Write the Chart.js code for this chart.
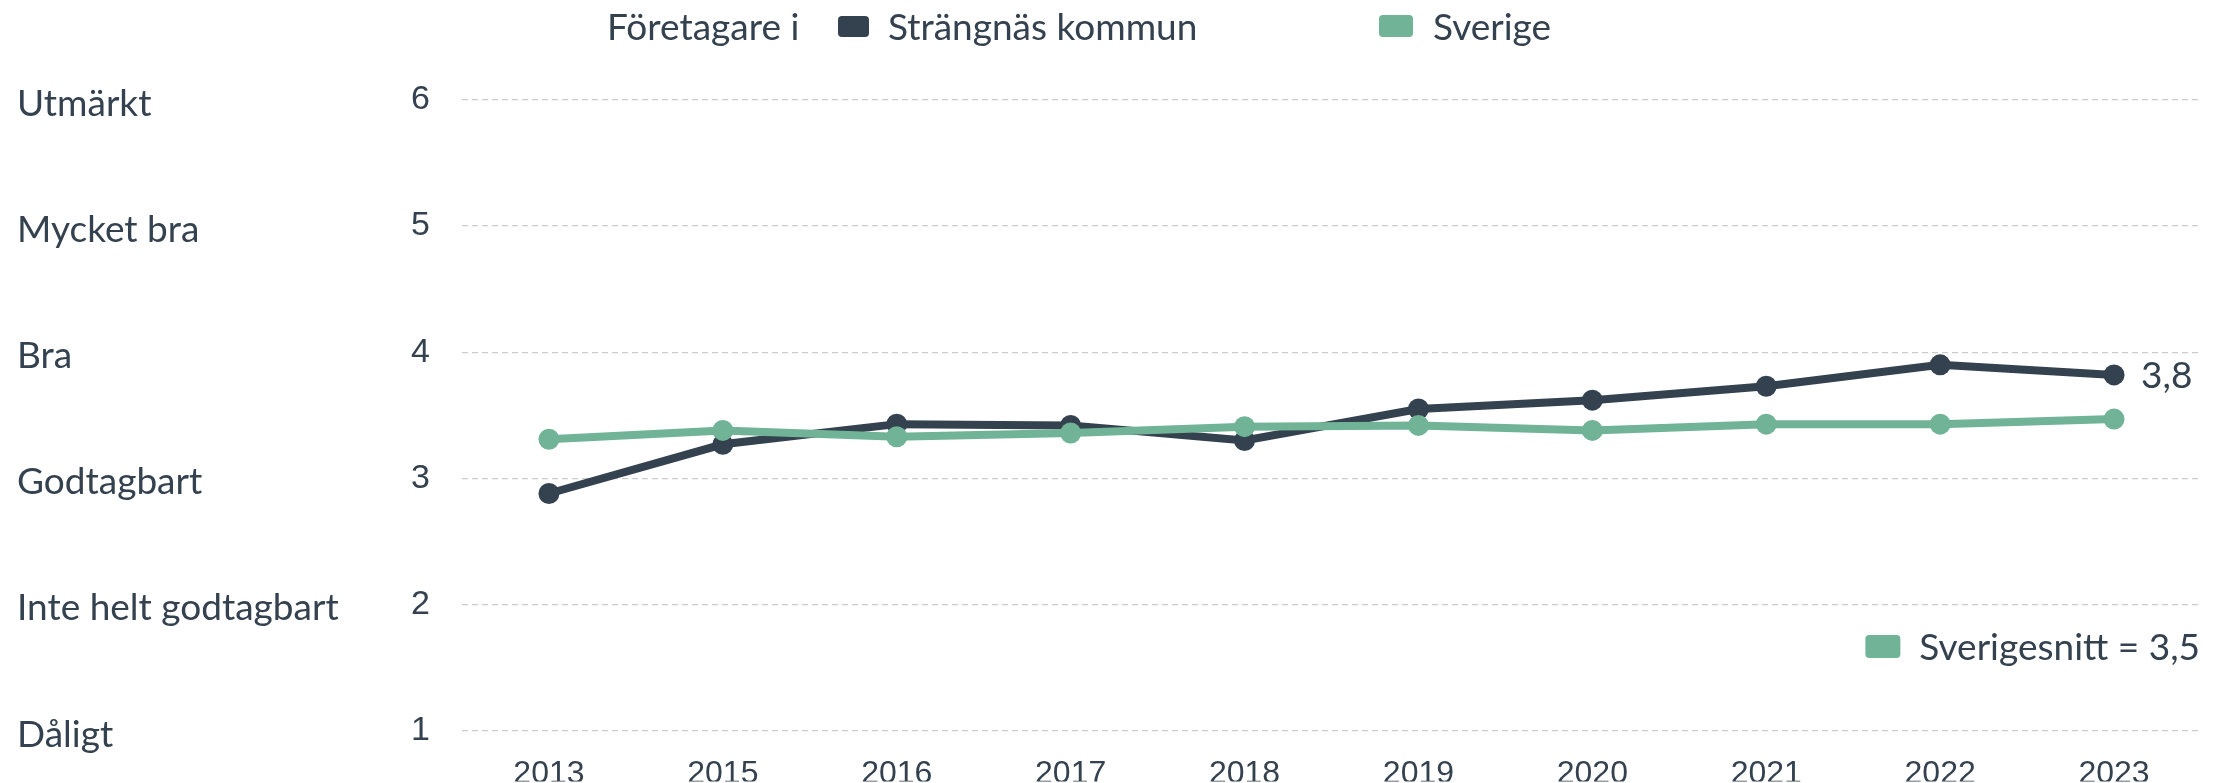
<!DOCTYPE html>
<html>
<head>
<meta charset="utf-8">
<script src="https://cdn.jsdelivr.net/npm/chart.js@4.4.0/dist/chart.umd.min.js"></script>
<style>
  html, body { margin: 0; padding: 0; background: #fff; }
</style>
</head>
<body>
<canvas id="grafico" width="2229" height="783"></canvas>
<script>
const ar = ['2013', '2015', '2016', '2017', '2018', '2019', '2020', '2021', '2022', '2023'];
const strangnas = [2.88, 3.27, 3.43, 3.42, 3.30, 3.55, 3.62, 3.73, 3.90, 3.82];
const sverige = [3.31, 3.38, 3.33, 3.36, 3.41, 3.42, 3.38, 3.43, 3.43, 3.47];
const betyg = ['Dåligt', 'Inte helt godtagbart', 'Godtagbart', 'Bra', 'Mycket bra', 'Utmärkt'];
const serier = ['Strängnäs kommun', 'Sverige'];
const sverigesnitt = 3.5;

const oscuro = '#34414f';
const verde = '#70b396';
const texto = '37px Lato';

function coma(v) {
    return v.toFixed(1).replace('.', ',');
}

function cuadro(ctx, x, y, w, h, color) {
    ctx.fillStyle = color;
    ctx.beginPath();
    ctx.roundRect(x, y, w, h, 4);
    ctx.fill();
}

// leyendas y etiqueta del ultimo valor
const extras = {
    id: 'extras',
    afterDraw(chart) {
        const ctx = chart.ctx;
        ctx.save();
        ctx.font = texto;
        ctx.textBaseline = 'middle';
        ctx.textAlign = 'left';
        ctx.fillStyle = oscuro;
        ctx.fillText('Företagare i', 607, 28);
        cuadro(ctx, 838, 16, 31, 21, oscuro);
        ctx.fillStyle = oscuro;
        ctx.fillText(serier[0], 888, 28);
        cuadro(ctx, 1379, 15, 34, 22, verde);
        ctx.fillStyle = oscuro;
        ctx.fillText(serier[1], 1433, 28);

        const meta = chart.getDatasetMeta(0);
        const p = meta.data[meta.data.length - 1];
        ctx.fillText(coma(strangnas[strangnas.length - 1]), p.x + 27, p.y + 1);

        const t = 'Sverigesnitt = ' + coma(sverigesnitt);
        const right = chart.chartArea.right;
        ctx.textAlign = 'right';
        ctx.fillText(t, right - 1, 648);
        const w = ctx.measureText(t).width;
        cuadro(ctx, right - 1 - w - 19 - 35, 635, 35, 23, verde);
        ctx.restore();
    }
};

const grafico = document.getElementById('grafico').getContext('2d');
new Chart(grafico, {
    type: 'line',
    data: {
        labels: ar,
        datasets: [{
            label: serier[0],
            data: strangnas,
            borderColor: oscuro,
            backgroundColor: oscuro,
            pointBackgroundColor: oscuro,
            borderWidth: 8,
            pointRadius: 10.5,
            pointBorderWidth: 0,
            tension: 0,
            order: 1
        }, {
            label: serier[1],
            data: sverige,
            borderColor: verde,
            backgroundColor: verde,
            pointBackgroundColor: verde,
            borderWidth: 8,
            pointRadius: 10.5,
            pointBorderWidth: 0,
            tension: 0,
            order: 0
        }]
    },
    options: {
        responsive: false,
        animation: false,
        layout: { padding: { left: 17, top: 100, right: 28, bottom: 0 } },
        plugins: {
            legend: { display: false },
            tooltip: { enabled: false }
        },
        scales: {
            x: {
                offset: true,
                grid: { display: false },
                border: { display: false },
                ticks: {
                    color: oscuro,
                    font: { family: 'Liberation Sans', size: 32, lineHeight: 1.2 },
                    padding: 16,
                    autoSkip: false,
                    maxRotation: 0
                },
                afterFit: function (s) { s.height = 51; }
            },
            y: {
                position: 'left',
                weight: 0,
                min: 1,
                max: 6,
                ticks: {
                    stepSize: 1,
                    color: oscuro,
                    font: { family: 'Liberation Sans', size: 34 },
                    padding: 32
                },
                grid: { color: '#cccccc', lineWidth: 1.3, drawTicks: false },
                border: { display: false, dash: [6, 4] },
                afterFit: function (s) { s.width = 82; }
            },
            nivel: {
                position: 'left',
                weight: 1,
                min: 1,
                max: 6,
                ticks: {
                    stepSize: 1,
                    color: oscuro,
                    font: { family: 'Lato', size: 37 },
                    crossAlign: 'far',
                    labelOffset: 4,
                    callback: function (v) { return betyg[v - 1]; }
                },
                grid: { display: false },
                border: { display: false },
                afterFit: function (s) { s.width = 363; }
            }
        }
    },
    plugins: [extras]
});
</script>
</body>
</html>
